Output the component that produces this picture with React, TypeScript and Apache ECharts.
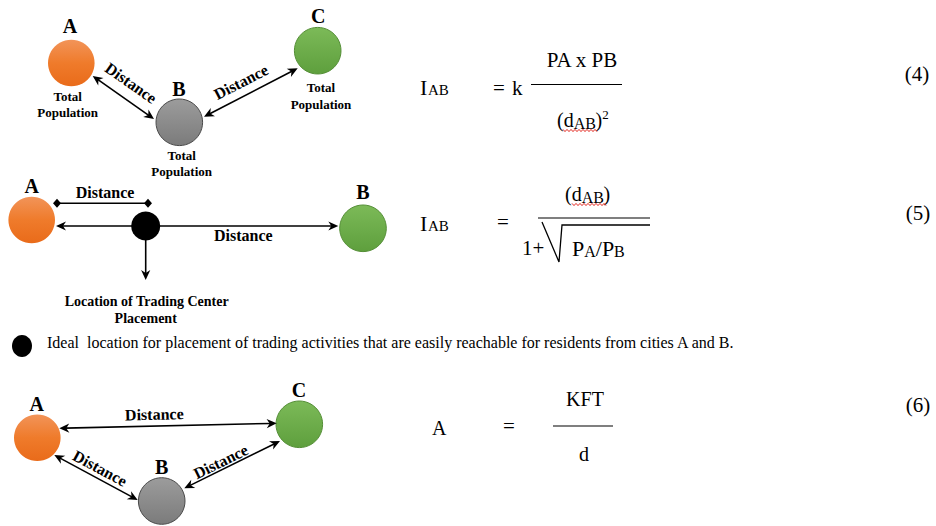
import React, { useEffect, useRef } from 'react';
import * as echarts from 'echarts';

// ---- texts of the figure ----
const nodeNames = ['A', 'B', 'C'];
const populationLabel = ['Total', 'Population'];
const distanceLabel = 'Distance';
const tradingLabel = ['Location of Trading Center', 'Placement'];
const legendLabel =
  'Ideal  location for placement of trading activities that are easily reachable for residents from cities A and B.';
const equationNumbers = ['(4)', '(5)', '(6)'];
const lhsParts = ['I', 'AB'];
const eq4Coefficient = ['=', 'k'];
const eq4Numerator = 'PA x PB';
const eq4Denominator = ['(', 'd', 'AB', ')', '2'];
const eq5Numerator = ['(', 'd', 'AB', ')'];
const eq5Denominator = ['1+', 'P', 'A', '/', 'P', 'B'];
const eq6Parts = ['A', '=', 'KFT', 'd'];

const SERIF = 'Liberation Serif';

const ORANGE = {
  type: 'linear', x: 0, y: 0, x2: 0, y2: 1,
  colorStops: [{ offset: 0, color: '#F29459' }, { offset: 0.5, color: '#EF7B2B' }, { offset: 1, color: '#E96B1A' }],
};
const GREEN = {
  type: 'linear', x: 0, y: 0, x2: 0, y2: 1,
  colorStops: [{ offset: 0, color: '#7CBA58' }, { offset: 1, color: '#5E9F3D' }],
};
const GRAY = {
  type: 'linear', x: 0, y: 0, x2: 0, y2: 1,
  colorStops: [{ offset: 0, color: '#9C9C9C' }, { offset: 1, color: '#7B7B7B' }],
};

function txt(text: string, x: number, y: number, size: number, opts: any = {}) {
  const align = opts.align || 'center';
  return {
    type: 'text',
    x,
    y,
    rotation: opts.rot || 0,
    silent: true,
    style: {
      text,
      fill: opts.fill || '#000',
      fontFamily: SERIF,
      fontSize: size,
      fontWeight: opts.bold ? 'bold' : 'normal',
      textAlign: align,
      textVerticalAlign: 'middle',
      align,
      verticalAlign: 'middle',
    },
  };
}
// text placed by baseline
function tb(text: string, x: number, baseline: number, size: number, align = 'left') {
  return txt(text, x, baseline - 0.33 * size, size, { align });
}

function circle(cx: number, cy: number, r: number, fill: any, stroke?: string) {
  return {
    type: 'circle',
    shape: { cx, cy, r },
    style: { fill, stroke: stroke || null, lineWidth: stroke ? 1 : 0 },
  };
}

function line(x1: number, y1: number, x2: number, y2: number, w = 1.5) {
  return { type: 'line', shape: { x1, y1, x2, y2 }, style: { stroke: '#000', lineWidth: w } };
}

function head(tx: number, ty: number, ux: number, uy: number) {
  const L = 10, W = 4.6, N = 7;
  const nx = -uy, ny = ux;
  return {
    type: 'polygon',
    shape: {
      points: [
        [tx, ty],
        [tx - ux * L + nx * W, ty - uy * L + ny * W],
        [tx - ux * N, ty - uy * N],
        [tx - ux * L - nx * W, ty - uy * L - ny * W],
      ],
    },
    style: { fill: '#000' },
  };
}

function arrow(x1: number, y1: number, x2: number, y2: number, startHead: boolean, endHead: boolean) {
  const dx = x2 - x1, dy = y2 - y1;
  const len = Math.hypot(dx, dy);
  const ux = dx / len, uy = dy / len;
  const sx = startHead ? x1 + ux * 6 : x1;
  const sy = startHead ? y1 + uy * 6 : y1;
  const ex = endHead ? x2 - ux * 6 : x2;
  const ey = endHead ? y2 - uy * 6 : y2;
  const els: any[] = [line(sx, sy, ex, ey, 1.6)];
  if (endHead) els.push(head(x2, y2, ux, uy));
  if (startHead) els.push(head(x1, y1, -ux, -uy));
  return els;
}

function diamond(cx: number, cy: number) {
  return {
    type: 'polygon',
    shape: { points: [[cx, cy - 4.5], [cx + 4, cy], [cx, cy + 4.5], [cx - 4, cy]] },
    style: { fill: '#000' },
  };
}

function wave(x0: number, x1: number, y: number) {
  const pts: number[][] = [];
  let i = 0;
  for (let x = x0; x <= x1; x += 2) {
    pts.push([x, y + (i % 2 === 0 ? -1.1 : 1.1)]);
    i++;
  }
  return { type: 'polyline', shape: { points: pts }, style: { stroke: '#E3261E', lineWidth: 1, fill: null } };
}

function angle(x1: number, y1: number, x2: number, y2: number) {
  return -Math.atan2(y2 - y1, x2 - x1);
}

function buildElements() {
  const els: any[] = [];
  const [nA, nB, nC] = nodeNames;

  // ---------- Diagram 1 ----------
  els.push(circle(71.3, 63, 23.3, ORANGE));
  els.push(circle(179.3, 122.3, 23.3, GRAY, '#4A4A4A'));
  els.push(circle(317.7, 50.7, 23.3, GREEN, '#558F37'));
  els.push(txt(nA, 70, 26, 20, { bold: true }));
  els.push(txt(nB, 179, 88.5, 20, { bold: true }));
  els.push(txt(nC, 318.3, 15.5, 20, { bold: true }));
  els.push(txt(populationLabel[0], 67.7, 96, 13, { bold: true }));
  els.push(txt(populationLabel[1], 67.7, 112.5, 13, { bold: true }));
  els.push(txt(populationLabel[0], 181.7, 155, 13, { bold: true }));
  els.push(txt(populationLabel[1], 181.7, 171.7, 13, { bold: true }));
  els.push(txt(populationLabel[0], 321, 87.3, 13, { bold: true }));
  els.push(txt(populationLabel[1], 321, 104, 13, { bold: true }));
  els.push(...arrow(92.7, 76, 154, 119, true, true));
  els.push(...arrow(204, 116.7, 297.7, 68.3, true, true));
  els.push(txt(distanceLabel, 131, 83, 16, { bold: true, rot: angle(92.7, 76, 154, 119) }));
  els.push(txt(distanceLabel, 241, 82, 16, { bold: true, rot: angle(204, 116.7, 297.7, 68.3) }));

  // ---------- Diagram 2 ----------
  els.push(circle(31.7, 220, 23.3, ORANGE));
  els.push(circle(363, 228.3, 23.3, GREEN, '#558F37'));
  els.push(txt(nA, 31.7, 185.7, 20, { bold: true }));
  els.push(txt(nB, 363, 191.7, 20, { bold: true }));
  els.push(line(57, 203.3, 148, 203.3, 1.6));
  els.push(diamond(57, 203.3));
  els.push(diamond(148, 203.3));
  els.push(txt(distanceLabel, 105, 192, 16, { bold: true }));
  els.push(...arrow(132, 226, 56, 226, false, true));
  els.push(...arrow(160, 226, 338.3, 226, false, true));
  els.push(...arrow(145.7, 240, 145.7, 280, false, true));
  els.push(circle(145.7, 226, 14.5, '#000'));
  els.push(txt(distanceLabel, 243.3, 235.7, 16, { bold: true }));
  els.push(txt(tradingLabel[0], 146.7, 301.7, 14, { bold: true }));
  els.push(txt(tradingLabel[1], 145.7, 318.3, 14, { bold: true }));

  // ---------- Legend line ----------
  els.push({ type: 'ellipse', shape: { cx: 22, cy: 346, rx: 10, ry: 11 }, style: { fill: '#000' } });
  els.push(txt(legendLabel, 47, 342.5, 16, { align: 'left' }));

  // ---------- Diagram 3 ----------
  els.push(circle(37.3, 437.7, 23.3, ORANGE));
  els.push(circle(299.3, 424.3, 23.3, GREEN, '#558F37'));
  els.push(circle(161.7, 501, 23.3, GRAY, '#4A4A4A'));
  els.push(txt(nA, 36.7, 404.3, 20, { bold: true }));
  els.push(txt(nC, 299, 390, 20, { bold: true }));
  els.push(txt(nB, 161.7, 466.7, 20, { bold: true }));
  els.push(...arrow(59.3, 428.3, 276.7, 423.3, true, true));
  els.push(...arrow(54.3, 455, 137.7, 500, true, true));
  els.push(...arrow(184.3, 488.3, 280, 441, true, true));
  els.push(txt(distanceLabel, 154.3, 414.3, 16, { bold: true, rot: angle(59.3, 428.3, 276.7, 423.3) }));
  els.push(txt(distanceLabel, 100, 468.3, 16, { bold: true, rot: angle(54.3, 455, 137.7, 500) }));
  els.push(txt(distanceLabel, 220.7, 461.7, 16, { bold: true, rot: angle(184.3, 488.3, 280, 441) }));

  // ---------- Equation (4) ----------
  els.push(tb(lhsParts[0], 420, 95, 22));
  els.push(tb(lhsParts[1], 428, 95, 15));
  els.push(tb(eq4Coefficient[0], 493, 95, 21));
  els.push(tb(eq4Coefficient[1], 512, 95, 21));
  els.push(line(531, 84.5, 622, 84.5, 1.2));
  els.push(tb(eq4Numerator, 582, 67, 21, 'center'));
  els.push(tb(eq4Denominator[0], 557, 127, 20));
  els.push(tb(eq4Denominator[1], 563.7, 127, 20));
  els.push(tb(eq4Denominator[2], 573.7, 129, 16));
  els.push(tb(eq4Denominator[3], 595.6, 127, 20));
  els.push(tb(eq4Denominator[4], 602.3, 119, 13));
  els.push(wave(563, 597, 130.5));
  els.push(txt(equationNumbers[0], 917, 74, 21));

  // ---------- Equation (5) ----------
  els.push(tb(lhsParts[0], 420, 231, 22));
  els.push(tb(lhsParts[1], 428, 231, 15));
  els.push(tb('=', 497, 229, 21));
  els.push(tb(eq5Numerator[0], 565, 201, 20));
  els.push(tb(eq5Numerator[1], 571.7, 201, 20));
  els.push(tb(eq5Numerator[2], 581.7, 203, 16));
  els.push(tb(eq5Numerator[3], 603.6, 201, 20));
  els.push(wave(572, 607, 204.5));
  els.push(line(538, 218, 650, 218, 1.2));
  els.push({
    type: 'polyline',
    shape: { points: [[542, 222], [559, 262], [562, 225], [650, 225]] },
    style: { stroke: '#000', lineWidth: 1.3, fill: null },
  });
  els.push(tb(eq5Denominator[0], 522, 255, 21));
  els.push(tb(eq5Denominator[1], 572, 256, 22));
  els.push(tb(eq5Denominator[2], 584.2, 257, 16));
  els.push(tb(eq5Denominator[3], 595.8, 256, 22));
  els.push(tb(eq5Denominator[4], 601.9, 256, 22));
  els.push(tb(eq5Denominator[5], 614.1, 257, 16));
  els.push(txt(equationNumbers[1], 918, 213, 21));

  // ---------- Equation (6) ----------
  els.push(tb(eq6Parts[0], 432, 435, 20));
  els.push(tb(eq6Parts[1], 503, 433, 21));
  els.push(line(553, 426, 613, 426, 1.2));
  els.push(tb(eq6Parts[2], 585, 406, 20, 'center'));
  els.push(tb(eq6Parts[3], 584, 461, 20, 'center'));
  els.push(txt(equationNumbers[2], 918, 405, 21));

  return els;
}

export default function App() {
  const ref = useRef<HTMLDivElement>(null);
  useEffect(() => {
    if (!ref.current) return;
    const chart = echarts.init(ref.current, undefined, { renderer: 'svg' });
    chart.setOption({
      animation: false,
      backgroundColor: '#ffffff',
      graphic: { elements: buildElements() },
    });
    return () => chart.dispose();
  }, []);
  return (
    <div
      ref={ref}
      style={{ position: 'absolute', left: 0, top: 0, width: 936, height: 526, background: '#fff' }}
    />
  );
}
